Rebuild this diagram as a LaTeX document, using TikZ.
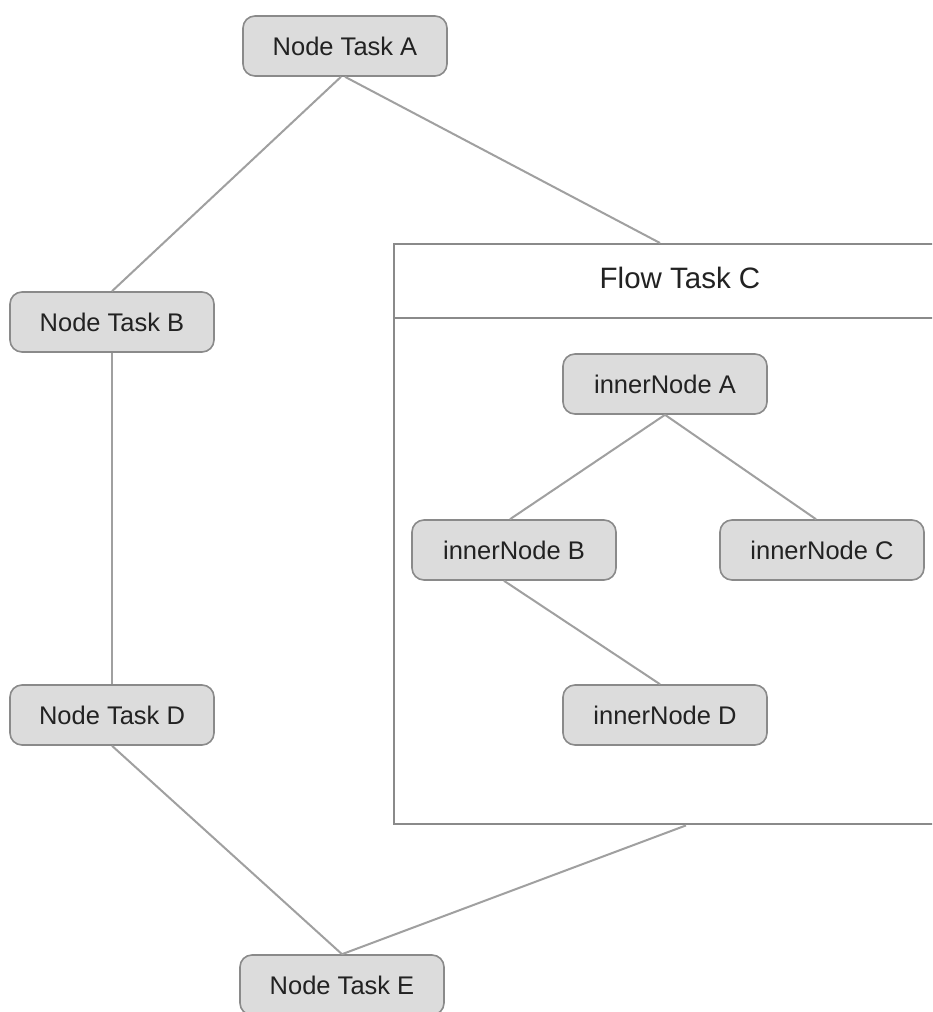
\documentclass[tikz,border=0pt]{standalone}
\usepackage{fontspec}
\setmainfont{Liberation Sans}
\usetikzlibrary{calc}
\definecolor{nodefill}{HTML}{DCDCDC}
\definecolor{nodeedge}{HTML}{8A8A8A}
\definecolor{linkcol}{HTML}{A0A0A0}
\definecolor{txtcol}{HTML}{222222}
\begin{document}
\begin{tikzpicture}[x=1pt,y=-1pt,
  task/.style={draw=nodeedge,line width=1.6pt,fill=nodefill,rounded corners=12pt,
    minimum width=204pt,minimum height=60pt,inner sep=0pt,
    font=\fontsize{25.5}{28}\selectfont,text=txtcol},
  link/.style={draw=linkcol,line width=2pt},
  flowbox/.style={draw=nodeedge,line width=2.4pt,fill=white,minimum width=567pt,minimum height=580pt,
    inner sep=0pt,anchor=north west}]
\useasboundingbox (0,0) rectangle (932,1012);
\clip (0,0) rectangle (932,1012);
\fill[white] (0,0) rectangle (932,1012);
% flow box
\node[flowbox] (flow) at (393,243) {};
\draw[draw=nodeedge,line width=2.4pt] (flow.west |- 0,318) coordinate (hl) -- (flow.east |- 0,318) coordinate (hr);
\node[font=\fontsize{29.5}{32}\selectfont,text=txtcol] (ftitle) at (680,278) {Flow Task C};
% outer nodes
\node[task] (A) at (345,46) {Node Task A};
\node[task] (B) at (112,322) {Node Task B};
\node[task] (D) at (112,715) {Node Task D};
\node[task] (E) at (342,985) {Node Task E};
% inner nodes
\node[task] (iA) at (665,384) {innerNode A};
\node[task] (iB) at (514,550) {innerNode B};
\node[task] (iC) at (822,550) {innerNode C};
\node[task] (iD) at (665,715) {innerNode D};
% links
\begin{scope}[on background layer/.style={}]
\end{scope}
\draw[link] (A.south) ++(-4,0) -- (B.north);
\draw[link] (A.south) -- ([xshift=267pt]flow.north west);
\draw[link] (B.south) -- (D.north);
\draw[link] (D.south) -- (E.north);
\draw[link] ([xshift=293pt]flow.south west) -- (E.north);
\draw[link] (iA.south) -- ([xshift=-4pt]iB.north);
\draw[link] (iA.south) -- ([xshift=-6pt]iC.north);
\draw[link] ([xshift=-10pt]iB.south) -- ([xshift=-5pt]iD.north);
\end{tikzpicture}
\end{document}
